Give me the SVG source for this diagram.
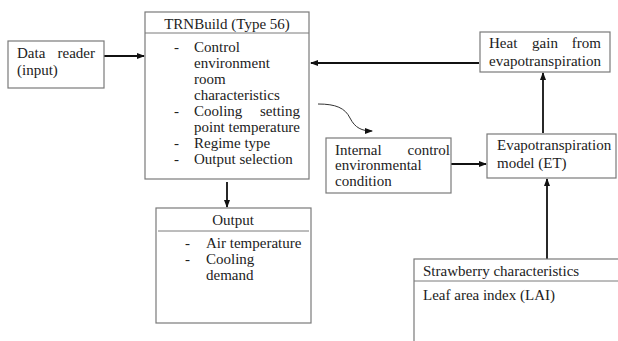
<svg xmlns="http://www.w3.org/2000/svg" width="618" height="341" viewBox="0 0 618 341">
<defs>
<marker id="ah" markerWidth="8" markerHeight="6" refX="7" refY="3" orient="auto" markerUnits="userSpaceOnUse">
<path d="M0,0 L8,3 L0,6 Z" fill="#111"/>
</marker>
<style>
.box{fill:#fff;stroke:#7a7a7a;stroke-width:1.2}
.sep{stroke:#7a7a7a;stroke-width:1}
.t{font-family:"Liberation Serif","Times New Roman",serif;font-size:15px;fill:#222}
.c{stroke:#111;stroke-width:1.8;fill:none;marker-end:url(#ah)}
.thin{stroke:#333;stroke-width:1;fill:none;marker-end:url(#ah)}
</style>
</defs>
<rect width="618" height="341" fill="#fff"/>
<g id="connectors">
<line class="c" x1="104" y1="56" x2="144" y2="56"/>
<line class="c" x1="479" y1="63" x2="311" y2="63"/>
<line class="c" x1="227" y1="182" x2="227" y2="207"/>
<line class="c" x1="451" y1="164" x2="486" y2="164"/>
<line class="c" x1="543" y1="133" x2="543" y2="73"/>
<line class="c" x1="547" y1="259" x2="547" y2="179"/>
<path class="thin" d="M318,104 C336,104 345,108 350,118 C355,128 362,131 372,131"/>
</g>
<g id="data-reader">
<rect class="box" x="8" y="41" width="96" height="47"/>
<text class="t" x="17" y="58">Data</text>
<text class="t" x="95" y="58" text-anchor="end">reader</text>
<text class="t" x="17" y="75">(input)</text>
</g>
<g id="trnbuild">
<rect class="box" x="145" y="12" width="164" height="167"/>
<line class="sep" x1="145" y1="33" x2="309" y2="33"/>
<text class="t" x="227" y="29" text-anchor="middle">TRNBuild (Type 56)</text>
<text class="t" x="174" y="52">-</text>
<text class="t" x="194" y="52">Control</text>
<text class="t" x="194" y="68">environment</text>
<text class="t" x="194" y="84">room</text>
<text class="t" x="194" y="100">characteristics</text>
<text class="t" x="174" y="116">-</text>
<text class="t" x="194" y="116">Cooling</text>
<text class="t" x="300" y="116" text-anchor="end">setting</text>
<text class="t" x="194" y="132" textLength="106" lengthAdjust="spacingAndGlyphs">point temperature</text>
<text class="t" x="174" y="148">-</text>
<text class="t" x="194" y="148">Regime type</text>
<text class="t" x="174" y="164">-</text>
<text class="t" x="194" y="164">Output selection</text>
</g>
<g id="output">
<rect class="box" x="156" y="208" width="155" height="115"/>
<line class="sep" x1="158" y1="231" x2="309" y2="231"/>
<text class="t" x="233" y="225" text-anchor="middle">Output</text>
<text class="t" x="185" y="248">-</text>
<text class="t" x="206" y="248">Air temperature</text>
<text class="t" x="185" y="264">-</text>
<text class="t" x="206" y="264">Cooling</text>
<text class="t" x="206" y="280">demand</text>
</g>
<g id="heat-gain">
<rect class="box" x="480" y="32" width="130" height="40"/>
<text class="t" x="489" y="48">Heat</text>
<text class="t" x="545" y="48" text-anchor="middle">gain</text>
<text class="t" x="601" y="48" text-anchor="end">from</text>
<text class="t" x="489" y="66" textLength="112" lengthAdjust="spacingAndGlyphs">evapotranspiration</text>
</g>
<g id="internal-control">
<rect class="box" x="326" y="138" width="125" height="55"/>
<text class="t" x="335" y="155">Internal</text>
<text class="t" x="450" y="155" text-anchor="end">control</text>
<text class="t" x="335" y="170">environmental</text>
<text class="t" x="335" y="186">condition</text>
</g>
<g id="et-model">
<rect class="box" x="487" y="134" width="129" height="44"/>
<text class="t" x="497" y="150">Evapotranspiration</text>
<text class="t" x="497" y="168">model (ET)</text>
</g>
<g id="strawberry">
<rect class="box" x="414" y="259" width="210" height="90"/>
<line class="sep" x1="414" y1="281" x2="618" y2="281"/>
<text class="t" x="423" y="276">Strawberry characteristics</text>
<text class="t" x="423" y="300">Leaf area index (LAI)</text>
</g>
</svg>
